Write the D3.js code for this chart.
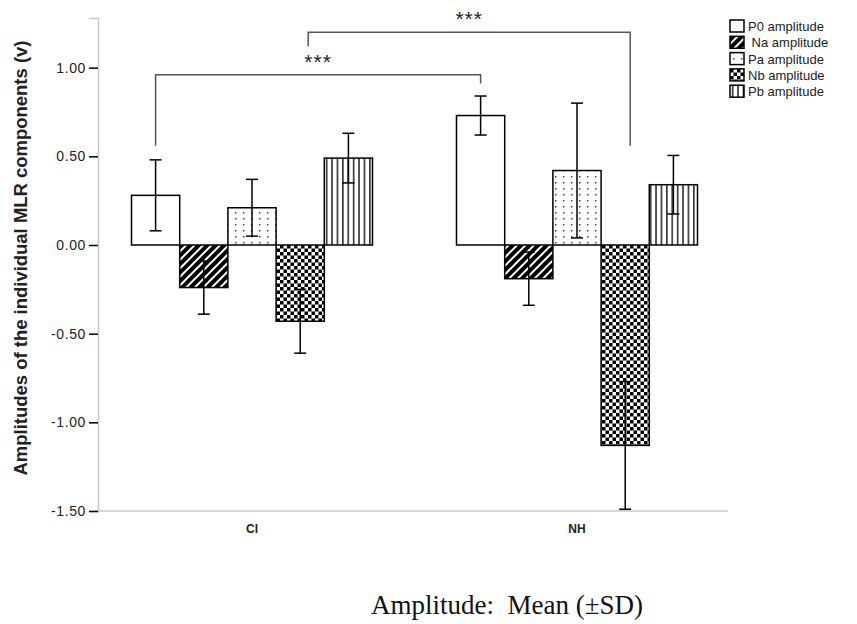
<!DOCTYPE html>
<html>
<head>
<meta charset="utf-8">
<script src="https://cdn.jsdelivr.net/npm/d3@7"></script>
<style>
  body { margin: 0; background: #fff; }
  text { font-family: "Liberation Sans", Arial, sans-serif; }
</style>
</head>
<body>
<div id="chart"></div>
<script>
// groups, series and values
var groups = ["CI", "NH"];
var series = ["P0", "Na", "Pa", "Nb", "Pb"];
var legendLabels = ["P0 amplitude", " Na amplitude", "Pa amplitude", "Nb amplitude", "Pb amplitude"];
var ciMeans = [0.28, -0.24, 0.21, -0.43, 0.49];
var ciSD = [0.20, 0.15, 0.16, 0.18, 0.14];
var nhMeans = [0.73, -0.19, 0.42, -1.13, 0.34];
var nhSD = [0.11, 0.15, 0.38, 0.36, 0.165];
var yTicks = [1.0, 0.5, 0.0, -0.5, -1.0, -1.5];

var w = 857,
    h = 624;

var svg = d3.select("#chart").append("svg")
    .attr("width", w)
    .attr("height", h);

var defs = svg.append("defs");

// Na: thick diagonal stripes
var pNa = defs.append("pattern")
    .attr("id", "pat-Na")
    .attr("patternUnits", "userSpaceOnUse")
    .attr("width", 6).attr("height", 6)
    .attr("patternTransform", "rotate(45)");
pNa.append("rect").attr("width", 6).attr("height", 6).attr("fill", "#fff");
pNa.append("rect").attr("width", 4).attr("height", 6).attr("fill", "#000");

// Pa: sparse dots
var pPa = defs.append("pattern")
    .attr("id", "pat-Pa")
    .attr("patternUnits", "userSpaceOnUse")
    .attr("width", 8).attr("height", 6);
pPa.append("rect").attr("width", 8).attr("height", 6).attr("fill", "#fff");
pPa.append("rect").attr("x", 3).attr("y", 2).attr("width", 1.5).attr("height", 1.5).attr("fill", "#444");

// Nb: checkerboard
var pNb = defs.append("pattern")
    .attr("id", "pat-Nb")
    .attr("patternUnits", "userSpaceOnUse")
    .attr("width", 7).attr("height", 7);
pNb.append("rect").attr("width", 7).attr("height", 7).attr("fill", "#fff");
pNb.append("rect").attr("width", 3.5).attr("height", 3.5).attr("fill", "#000");
pNb.append("rect").attr("x", 3.5).attr("y", 3.5).attr("width", 3.5).attr("height", 3.5).attr("fill", "#000");

// Pb: vertical lines
var pPb = defs.append("pattern")
    .attr("id", "pat-Pb")
    .attr("patternUnits", "userSpaceOnUse")
    .attr("width", 5.4).attr("height", 10);
pPb.append("rect").attr("width", 5.4).attr("height", 10).attr("fill", "#fff");
pPb.append("rect").attr("x", 2).attr("width", 1.3).attr("height", 10).attr("fill", "#000");

var fills = {P0: "#fff", Na: "url(#pat-Na)", Pa: "url(#pat-Pa)", Nb: "url(#pat-Nb)", Pb: "url(#pat-Pb)"};

// scales
var y = d3.scaleLinear().domain([-1.5, 1.28]).range([511, 18]);
var x0 = d3.scaleBand().domain(groups).range([89.5, 739.5]);
var barW = 48.2;
var x1 = d3.scaleBand().domain(series)
    .range([x0.bandwidth() / 2 - barW * 2.5, x0.bandwidth() / 2 + barW * 2.5]);

// axes
var yAxis = svg.append("g")
    .attr("transform", "translate(98,0)")
    .call(d3.axisLeft(y).tickValues(yTicks).tickFormat(d3.format(".2f")).tickSize(9).tickPadding(3));
yAxis.select(".domain").attr("stroke", "#c8c8c8").attr("stroke-width", 1.5);
yAxis.selectAll(".tick line").attr("stroke", "#000").attr("stroke-width", 1.5);
yAxis.selectAll(".tick text")
    .attr("font-size", "14px")
    .attr("fill", "#222")
    .style("letter-spacing", "0.6px")
    .text(function(d) { return d3.format(".2f")(d).replace("−", "-"); });

var xAxis = svg.append("g")
    .attr("transform", "translate(0," + y(-1.5) + ")");
xAxis.append("line")
    .attr("x1", 98).attr("x2", 728)
    .attr("stroke", "#c8c8c8").attr("stroke-width", 1.5);
xAxis.selectAll("text.cat")
    .data(groups)
    .enter().append("text")
    .attr("class", "cat")
    .attr("x", function(d) { return x0(d) + x0.bandwidth() / 2; })
    .attr("y", 22)
    .attr("text-anchor", "middle")
    .attr("font-size", "12px")
    .attr("font-weight", "bold")
    .attr("fill", "#222")
    .text(function(d) { return d; });

// bars
var rows = [];
groups.forEach(function(g, gi) {
  var means = gi === 0 ? ciMeans : nhMeans;
  var sds = gi === 0 ? ciSD : nhSD;
  series.forEach(function(s, si) {
    rows.push({group: g, key: s, value: means[si], sd: sds[si]});
  });
});

var bars = svg.append("g");
bars.selectAll("rect")
    .data(rows)
    .enter().append("rect")
    .attr("x", function(d) { return x0(d.group) + x1(d.key); })
    .attr("y", function(d) { return y(Math.max(0, d.value)); })
    .attr("width", x1.bandwidth())
    .attr("height", function(d) { return Math.abs(y(d.value) - y(0)); })
    .attr("fill", function(d) { return fills[d.key]; })
    .attr("stroke", "#000")
    .attr("stroke-width", 1.5);

// error bars
var errs = svg.append("g")
    .attr("stroke", "#000")
    .attr("stroke-width", 1.5);
rows.forEach(function(d) {
  var cx = x0(d.group) + x1(d.key) + x1.bandwidth() / 2;
  var top = y(d.value + d.sd),
      bot = y(d.value - d.sd);
  errs.append("line").attr("x1", cx).attr("x2", cx).attr("y1", top).attr("y2", bot);
  errs.append("line").attr("x1", cx - 6).attr("x2", cx + 6).attr("y1", top).attr("y2", top);
  errs.append("line").attr("x1", cx - 6).attr("x2", cx + 6).attr("y1", bot).attr("y2", bot);
});

// significance brackets
function center(g, s) { return x0(g) + x1(s) + x1.bandwidth() / 2; }
var brackets = [
  {x1: center("CI", "P0"), x2: center("NH", "P0"), top: 0.96, left: 0.56, right: 0.91},
  {x1: center("CI", "Nb") + 8, x2: center("NH", "Nb") + 5, top: 1.2, left: 1.12, right: 0.56}
];
var br = svg.append("g");
brackets.forEach(function(b) {
  br.append("path")
      .attr("d", "M" + b.x1 + "," + y(b.left) + "V" + y(b.top) + "H" + b.x2 + "V" + y(b.right))
      .attr("fill", "none")
      .attr("stroke", "#555")
      .attr("stroke-width", 1.5);
  br.append("text")
      .attr("x", (b.x1 + b.x2) / 2)
      .attr("y", y(b.top) - 6)
      .attr("text-anchor", "middle")
      .attr("font-size", "21px")
      .style("letter-spacing", "1px")
      .attr("fill", "#222")
      .text("***");
});

// legend
var legend = svg.append("g").attr("transform", "translate(730,20)");
series.forEach(function(s, i) {
  legend.append("rect")
      .attr("x", 0).attr("y", i * 16.3)
      .attr("width", 14).attr("height", 12)
      .attr("fill", fills[s])
      .attr("stroke", "#000")
      .attr("stroke-width", 1.5);
  legend.append("text")
      .attr("x", 18).attr("y", i * 16.3 + 11)
      .attr("font-size", "13px")
      .attr("fill", "#222")
      .style("white-space", "pre")
      .attr("xml:space", "preserve")
      .text(legendLabels[i]);
});

// axis title
svg.append("text")
    .attr("transform", "translate(27,258) rotate(-90)")
    .attr("text-anchor", "middle")
    .attr("font-size", "18px")
    .attr("font-weight", "bold")
    .attr("textLength", 435)
    .attr("lengthAdjust", "spacingAndGlyphs")
    .attr("fill", "#222")
    .text("Amplitudes of the individual MLR components (v)");

// caption
svg.append("text")
    .attr("x", 507)
    .attr("y", 614)
    .attr("text-anchor", "middle")
    .attr("font-size", "27px")
    .attr("fill", "#111")
    .style("font-family", "'Liberation Serif', 'Times New Roman', serif")
    .attr("xml:space", "preserve")
    .text("Amplitude:  Mean (\u00B1SD)");
</script>
</body>
</html>
